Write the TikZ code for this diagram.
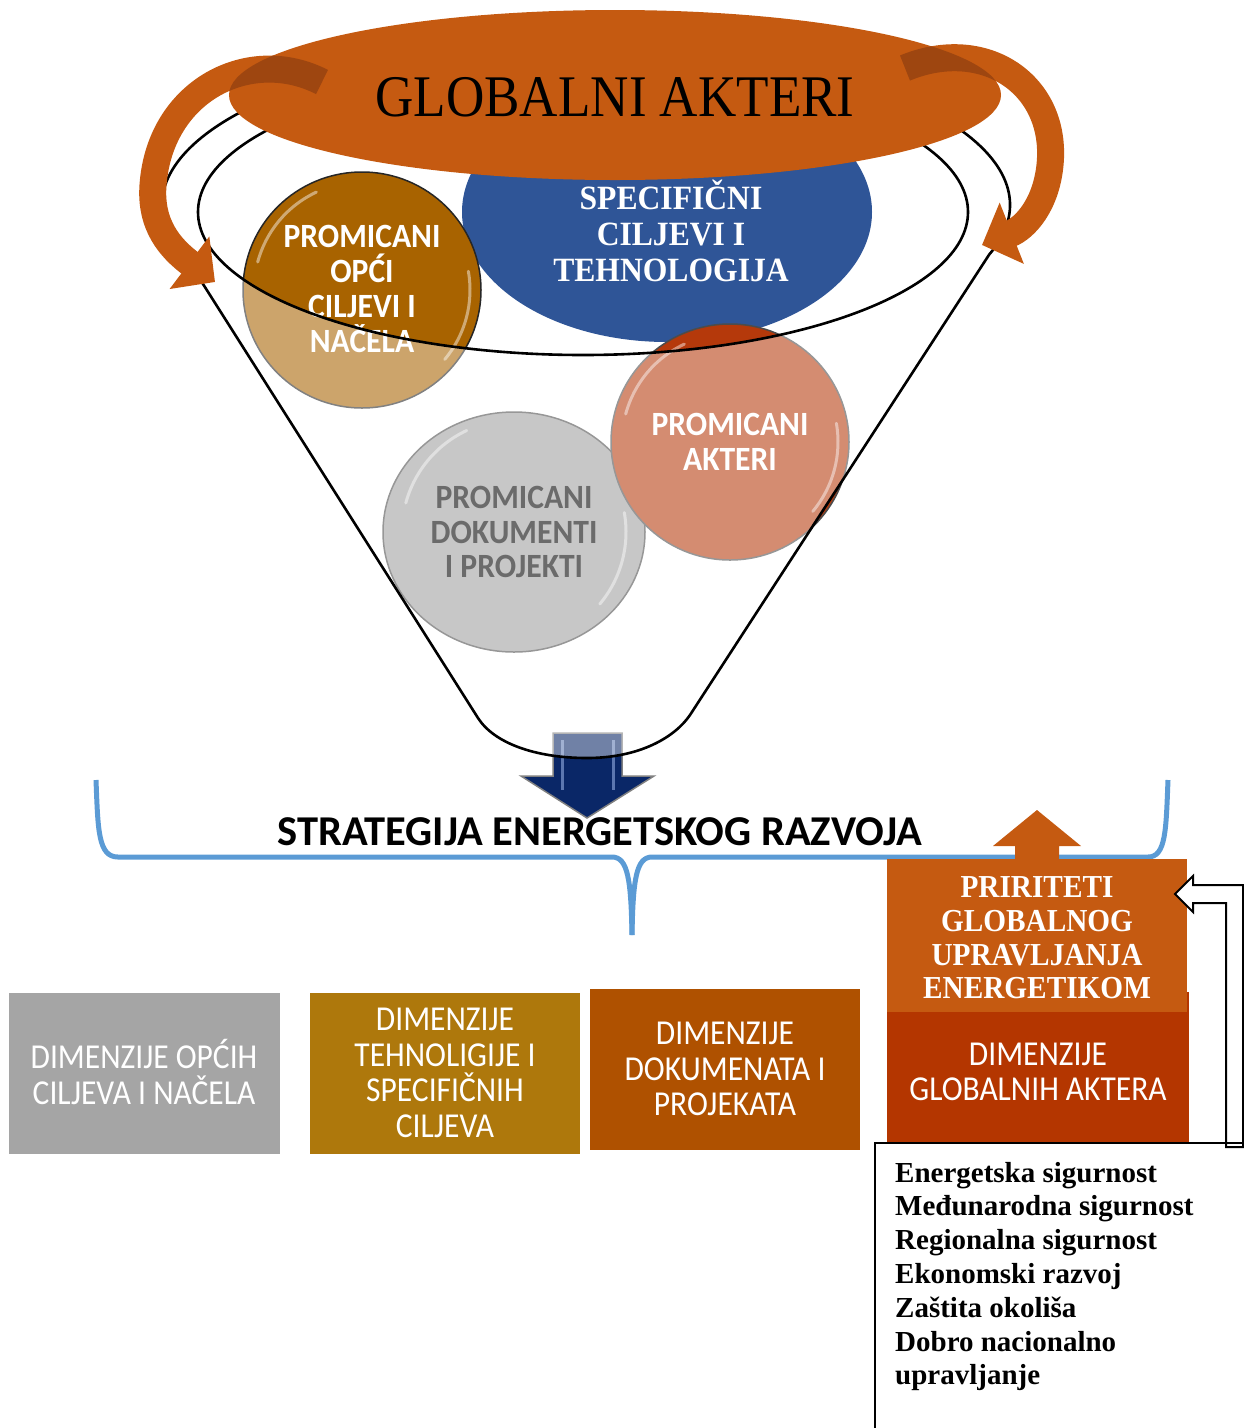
\documentclass[tikz,border=0pt]{standalone}
\usepackage{fontspec}
\setmainfont{Liberation Serif}
\newfontfamily\carl{Carlito}
\usetikzlibrary{arrows.meta}
\definecolor{orng}{HTML}{C55A11}
\definecolor{darkorng}{HTML}{9E4610}
\definecolor{blueell}{HTML}{2F5597}
\definecolor{goldc}{HTML}{A86300}
\definecolor{greyc}{HTML}{A0A0A0}
\definecolor{redc}{HTML}{B5390B}
\definecolor{navy}{HTML}{0A2767}
\definecolor{navylight}{HTML}{7F9AD0}
\definecolor{bracecol}{HTML}{5B9BD5}
\definecolor{greybox}{HTML}{A5A5A5}
\definecolor{goldbox}{HTML}{AE780C}
\definecolor{brownbox}{HTML}{AF5100}
\definecolor{redbox}{HTML}{B43600}
\tikzset{
  funnelline/.style={line width=2.6pt, draw=black},
  circtxt/.style={font=\carl\bfseries\fontsize{34}{34.7}\selectfont, align=center, xscale=0.93, text=white, inner sep=0pt},
  bluetxt/.style={font=\bfseries\fontsize{34}{36}\selectfont, align=center, xscale=0.93, text=white, inner sep=0pt},
  boxtxt/.style={font=\carl\fontsize{35}{35.5}\selectfont, align=center, xscale=0.9, text=white, inner sep=0pt},
  prtxt/.style={font=\bfseries\fontsize{32}{33.7}\selectfont, align=center, xscale=0.915, text=white, inner sep=0pt},
  listtxt/.style={font=\bfseries\fontsize{29}{33.8}\selectfont, anchor=base west, inner sep=0pt},
  gloss/.style={draw=white, line width=3pt, opacity=0.45, line cap=round},
  curvarrow/.style={draw=orng, line width=27pt, -{Triangle[length=32pt,width=64pt]}},
}
\begin{document}
\begin{tikzpicture}[x=1pt,y=-1pt]
\useasboundingbox (0,0) rectangle (1244,1428);

% ---- contents of the funnel ----
\fill[blueell] (667,212) ellipse[x radius=205, y radius=130];
\node[bluetxt] (spec) at (671,231) {SPECIFIČNI\\CILJEVI I\\TEHNOLOGIJA};

\filldraw[fill=goldc, draw=black!85, line width=1.5pt] (362,290) ellipse[x radius=119, y radius=118];
\draw[gloss] (362,290) ++(195:108) arc[start angle=195, end angle=245, radius=108];
\draw[gloss] (362,290) ++(-10:108) arc[start angle=-10, end angle=40, radius=108];
\node[circtxt] (opci) at (362,289) {PROMICANI\\OPĆI\\CILJEVI I\\NAČELA};

\filldraw[fill=greyc, draw=black!70, line width=1.5pt] (514,532) ellipse[x radius=131, y radius=120];
\draw[gloss] (514,532) ++(195:112) arc[start angle=195, end angle=245, radius=112];
\draw[gloss] (514,532) ++(-10:112) arc[start angle=-10, end angle=40, radius=112];
\node[circtxt, text=black] (dok) at (514,532) {PROMICANI\\DOKUMENTI\\I PROJEKTI};

\filldraw[fill=redc, draw=black!70, line width=1.5pt] (730,442) ellipse[x radius=119, y radius=118];
\draw[gloss] (730,442) ++(195:108) arc[start angle=195, end angle=245, radius=108];
\draw[gloss] (730,442) ++(-10:108) arc[start angle=-10, end angle=40, radius=108];
\node[circtxt] (akt) at (730,442) {PROMICANI\\AKTERI};

% down arrow
\filldraw[fill=navy, draw=gray, line width=1.5pt]
  (553,733) -- (622,733) -- (622,776) -- (654,776) -- (587,818) -- (521,776) -- (553,776) -- cycle;
\draw[navylight, line width=3pt, opacity=0.7] (562,740) -- (562,790);
\draw[navylight, line width=3pt, opacity=0.7] (613,740) -- (613,790);

% ---- translucent funnel body ----
\fill[white, fill opacity=0.42, even odd rule]
  (187.6,259.7) arc[start angle=160, end angle=378, x radius=424, y radius=160]
  -- (690,715) .. controls (675,737) and (640,758) .. (587,758)
  .. controls (535,758) and (494,743) .. (478,718) -- cycle
  (583,212) ellipse[x radius=385, y radius=143];

\draw[funnelline]
  (187.6,259.7) arc[start angle=160, end angle=378, x radius=424, y radius=160]
  -- (690,715) .. controls (675,737) and (640,758) .. (587,758)
  .. controls (535,758) and (494,743) .. (478,718) -- cycle;
\draw[funnelline] (583,212) ellipse[x radius=385, y radius=143];

% ---- global actors ellipse ----
\fill[orng] (615,95) ellipse[x radius=386, y radius=85];
\node[font=\fontsize{59}{60}\selectfont, xscale=0.9, inner sep=0pt] (ga) at (615,97) {GLOBALNI AKTERI};

% curved arrows
\draw[curvarrow] (322,82) .. controls (250,45) and (160,90) .. (153,185)
  .. controls (150,225) and (170,248) .. (215,282);
\draw[curvarrow] (905,68) .. controls (985,35) and (1058,85) .. (1050,165)
  .. controls (1046,205) and (1025,228) .. (982,245);
\begin{scope}
  \clip (615,95) ellipse[x radius=386, y radius=85];
  \draw[darkorng, line width=27pt] (322,82) .. controls (250,45) and (160,90) .. (153,185);
  \draw[darkorng, line width=27pt] (905,68) .. controls (985,35) and (1058,85) .. (1050,165);
\end{scope}

% ---- brace ----
\draw[bracecol, line width=5pt]
  (96,780) .. controls (98,830) and (98,857) .. (118,857) -- (612,857)
  .. controls (628,857) and (631,880) .. (632,935);
\draw[bracecol, line width=5pt]
  (632,935) .. controls (633,880) and (636,857) .. (652,857) -- (1148,857)
  .. controls (1166,857) and (1166,830) .. (1168,780);
\node[font=\carl\bfseries\fontsize{42.5}{43}\selectfont, inner sep=0pt] (strat) at (600,832) {STRATEGIJA ENERGETSKOG RAZVOJA};

% ---- right column ----
\fill[orng] (1015,862) -- (1015,846) -- (993,846) -- (1037,810) -- (1081,846) -- (1059,846) -- (1059,862) -- cycle;
\fill[redbox] (887,992) rectangle (1189,1143);
\fill[orng] (887,859) rectangle (1187,1012);
\node[prtxt] (prio) at (1037,938) {PRIRITETI\\GLOBALNOG\\UPRAVLJANJA\\ENERGETIKOM};
\node[boxtxt] (dga) at (1038,1072) {DIMENZIJE\\GLOBALNIH AKTERA};

% ---- bottom boxes ----
\fill[greybox] (9,993) rectangle (280,1154);
\node[boxtxt] (dop) at (144,1072) {DIMENZIJE OPĆIH\\CILJEVA I NAČELA};
\fill[goldbox] (310,993) rectangle (580,1154);
\node[boxtxt] (dts) at (445,1073) {DIMENZIJE\\TEHNOLIGIJE I\\SPECIFIČNIH\\CILJEVA};
\fill[brownbox] (590,989) rectangle (860,1150);
\node[boxtxt] (ddp) at (725,1069) {DIMENZIJE\\DOKUMENATA I\\PROJEKATA};

% ---- bent hollow arrow and list frame ----
\filldraw[fill=white, draw=black, line width=2pt]
  (1243,1147) -- (1243,885) -- (1193,885) -- (1193,876) -- (1175,894) -- (1193,912)
  -- (1193,903) -- (1226,903) -- (1226,1147) -- cycle;
\draw[black, line width=1.5pt] (875,1428) -- (875,1143) -- (1243,1143);

\node[listtxt] (l1) at (895,1182) {Energetska sigurnost};
\node[listtxt] (l2) at (895,1215.8) {Međunarodna sigurnost};
\node[listtxt] (l3) at (895,1249.6) {Regionalna sigurnost};
\node[listtxt] (l4) at (895,1283.4) {Ekonomski razvoj};
\node[listtxt] (l5) at (895,1317.2) {Zaštita okoliša};
\node[listtxt] (l6) at (895,1351) {Dobro nacionalno};
\node[listtxt] (l7) at (895,1384.8) {upravljanje};
\end{tikzpicture}
\end{document}
